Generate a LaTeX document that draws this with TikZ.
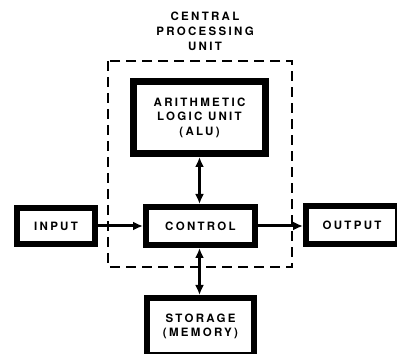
\documentclass[tikz,border=0pt]{standalone}
\usepackage{fontspec}
\setmainfont{TeX Gyre Heros}
\newfontfamily\boxfont{TeX Gyre Heros}[LetterSpace=20]
\usetikzlibrary{arrows.meta}
\begin{document}
\begin{tikzpicture}[x=1pt,y=1pt,
    unit/.style={draw,line width=6pt,inner sep=0pt,align=center,
        font=\boxfont\bfseries\fontsize{11.5}{14.5}\selectfont},
    link/.style={line width=3pt},
    >={Latex[length=10pt,width=9pt]}]
    \useasboundingbox (0,0) rectangle (397,354);

    % Central processing unit outline
    \draw[line width=1.3pt,dash pattern=on 10pt off 6pt] (108,293) rectangle (292,87);
    \node[align=center,font=\boxfont\bfseries\fontsize{11.5}{15}\selectfont] (cpu) at (205,323) {CENTRAL\\PROCESSING\\UNIT};

    % Units
    \node[unit,line width=7pt,minimum width=132,minimum height=72] (alu) at (199.5,236.5) {ARITHMETIC\\LOGIC UNIT\\(ALU)};
    \node[unit,minimum width=109,minimum height=38] (control) at (200.5,128) {CONTROL};
    \node[unit,minimum width=78,minimum height=36] (input) at (56,128) {INPUT};
    \node[unit,minimum width=92,minimum height=38] (output) at (352,129) {OUTPUT};
    \node[unit,minimum width=107,minimum height=57] (storage) at (200.5,27.5) {STORAGE\\(MEMORY)};

    % Data paths
    \draw[link,->] (input) -- (input -| control.west);
    \draw[link,->] (control.east) -- (control.east -| output.west);
    \draw[link,<->] (alu) -- (alu |- control.north);
    \draw[link,<->] (control.south -| alu) -- (alu |- storage.north);
\end{tikzpicture}
\end{document}
